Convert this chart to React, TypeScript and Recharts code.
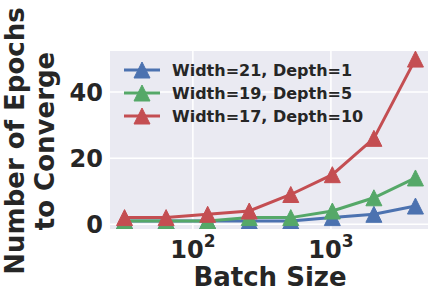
import { CartesianGrid, Line, LineChart, XAxis, YAxis } from "recharts";

const batchSizes = [32, 64, 128, 256, 512, 1024, 2048, 4096];
const depth1 = [1, 1, 1, 1, 1, 2, 3, 5.5];
const depth5 = [1, 1, 1, 2, 2, 4, 8, 14];
const depth10 = [2, 2, 3, 4, 9, 15, 26, 50];

const seriesNames = ["Width=21, Depth=1", "Width=19, Depth=5", "Width=17, Depth=10"];
const seriesKeys = ["d1", "d5", "d10"];
const colors = ["#4C72B0", "#55A868", "#C44E52"];

const xTicks = [100, 1000];
const xTickExponents = ["2", "3"];
const yTicks = [0, 20, 40];

const data = batchSizes.map((b, i) => ({
  batch: b,
  d1: depth1[i],
  d5: depth5[i],
  d10: depth10[i],
}));

const font = "'DejaVu Sans', sans-serif";
const ink = "#262626";

// matplotlib-style 5% margins, in log space for x
const lx0 = Math.log10(batchSizes[0]);
const lx1 = Math.log10(batchSizes[batchSizes.length - 1]);
const xDomain = [Math.pow(10, lx0 - 0.05 * (lx1 - lx0)), Math.pow(10, lx1 + 0.05 * (lx1 - lx0))];
const yDomain = [1 - 0.05 * 49, 50 + 0.05 * 49];

function triangle(color: string) {
  return (props: any) => {
    const { cx, cy, index } = props;
    if (cx == null || cy == null) return <g key={index} />;
    const s = 8;
    return (
      <polygon
        key={index}
        points={`${cx},${cy - s} ${cx - s},${cy + s} ${cx + s},${cy + s}`}
        fill={color}
        stroke={color}
        strokeWidth={1}
      />
    );
  };
}

function XTick(props: any) {
  const { x, payload } = props;
  const i = xTicks.indexOf(payload.value);
  return (
    <text x={x} y={258} textAnchor="middle" fontFamily={font} fontWeight="bold" fontSize={24} fill={ink}>
      <tspan>10</tspan>
      <tspan dy={-11} fontSize={17}>
        {xTickExponents[i]}
      </tspan>
    </text>
  );
}

function YTick(props: any) {
  const { y, payload } = props;
  return (
    <text x={103} y={y} dy="0.36em" textAnchor="end" fontFamily={font} fontWeight="bold" fontSize={24} fill={ink}>
      {payload.value}
    </text>
  );
}

function YLabel() {
  return (
    <g fontFamily={font} fontWeight="bold" fontSize={26} fill={ink} textAnchor="middle">
      <text x={24} y={141} transform="rotate(-90, 24, 141)">
        Number of Epochs
      </text>
      <text x={54} y={141} transform="rotate(-90, 54, 141)">
        to Converge
      </text>
    </g>
  );
}

function XLabel() {
  return (
    <text x={270} y={286} textAnchor="middle" fontFamily={font} fontWeight="bold" fontSize={26} fill={ink}>
      Batch Size
    </text>
  );
}

function LegendBox() {
  const rows = [70, 93, 116];
  return (
    <svg width={432} height={140} style={{ position: "absolute", left: 0, top: 0, pointerEvents: "none" }}>
      {seriesNames.map((name, i) => (
        <g key={name}>
          <line x1={124} x2={160} y1={rows[i]} y2={rows[i]} stroke={colors[i]} strokeWidth={3} />
          <polygon
            points={`142,${rows[i] - 8} 134,${rows[i] + 8} 150,${rows[i] + 8}`}
            fill={colors[i]}
            stroke={colors[i]}
            strokeWidth={1}
          />
          <text x={172} y={rows[i]} dy="0.36em" fontFamily={font} fontWeight="bold" fontSize={16} fill={ink}>
            {name}
          </text>
        </g>
      ))}
    </svg>
  );
}

export default function App() {
  return (
    <div style={{ position: "absolute", left: 0, top: 0, width: 428, height: 292, overflow: "hidden", background: "#fff" }}>
      <div style={{ position: "relative", width: 432, height: 292 }}>
        <LineChart width={432} height={292} data={data} margin={{ top: 51, right: 2, bottom: 0, left: 0 }}>
          <CartesianGrid fill="#EAEAF2" stroke="#FFFFFF" strokeWidth={1.5} verticalValues={xTicks} horizontalValues={yTicks} />
          <XAxis
            dataKey="batch"
            type="number"
            scale="log"
            domain={xDomain}
            allowDataOverflow
            ticks={xTicks}
            height={63}
            axisLine={false}
            tickLine={false}
            tick={<XTick />}
            label={{ content: () => <XLabel /> }}
          />
          <YAxis
            type="number"
            domain={yDomain}
            allowDataOverflow
            ticks={yTicks}
            width={110}
            axisLine={false}
            tickLine={false}
            tick={<YTick />}
            label={{ content: () => <YLabel /> }}
          />
          {seriesKeys.map((k, i) => (
            <Line
              key={k}
              dataKey={k}
              type="linear"
              stroke={colors[i]}
              strokeWidth={3}
              dot={triangle(colors[i])}
              activeDot={false}
              isAnimationActive={false}
            />
          ))}
        </LineChart>
        <LegendBox />
      </div>
    </div>
  );
}
